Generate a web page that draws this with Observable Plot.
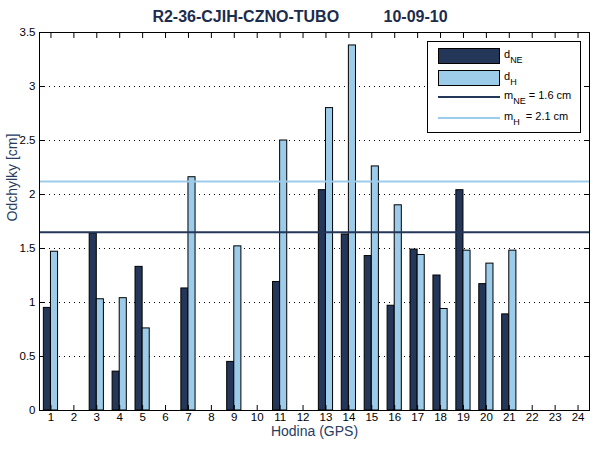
<!DOCTYPE html>
<html>
<head>
<meta charset="utf-8">
<script src="https://cdn.jsdelivr.net/npm/d3@7"></script>
<script src="https://cdn.jsdelivr.net/npm/@observablehq/plot@0.6"></script>
<style>
  body { margin: 0; background: #fff; font-family: "Liberation Sans", Arial, sans-serif; }
  #wrap { position: relative; width: 600px; height: 450px; background: #fff; }
  #title { height: 20px; width: 600px; text-align: center; font-size: 16px; font-weight: bold;
           color: #1c2c4c; line-height: 34px; white-space: pre; }
  #legend { position: absolute; left: 427px; top: 41px; }
</style>
</head>
<body>
<div id="wrap">
  <div id="title"></div>
  <div id="chart"></div>
  <div id="legend"></div>
</div>
<script>
const titleText = "R2-36-CJIH-CZNO-TUBO          10-09-10";
const hours = [1,2,3,4,5,6,7,8,9,10,11,12,13,14,15,16,17,18,19,20,21,22,23,24];
const dNE = [0.95, null, 1.64, 0.36, 1.33, null, 1.13, null, 0.45, null, 1.19, null,
             2.04, 1.63, 1.43, 0.97, 1.49, 1.25, 2.04, 1.17, 0.89, null, null, null];
const dH  = [1.47, null, 1.03, 1.04, 0.76, null, 2.16, null, 1.52, null, 2.50, null,
             2.80, 3.38, 2.26, 1.90, 1.44, 0.94, 1.48, 1.36, 1.48, null, null, null];
const meanNE = 1.65;
const meanH = 2.12;
const yTicks = [0, 0.5, 1, 1.5, 2, 2.5, 3, 3.5];
const legendLabels = [["d", "NE", ""], ["d", "H", ""], ["m", "NE", " = 1.6 cm"], ["m", "H", "  = 2.1 cm"]];

const colNE = "#243758";
const colH = "#9dcbea";
const labelCol = "#263c63";

document.getElementById("title").textContent = titleText;

const rowsNE = hours.map((h, i) => ({hour: h, v: dNE[i]})).filter(d => d.v != null);
const rowsH = hours.map((h, i) => ({hour: h, v: dH[i]})).filter(d => d.v != null);
const barW = 0.31;

const chart = Plot.plot({
  width: 600,
  height: 430,
  marginTop: 12,
  marginBottom: 40,
  marginLeft: 39,
  marginRight: 11,
  style: {fontFamily: "Liberation Sans, Arial, sans-serif", fontSize: "11.5px", color: "#000", background: "#fff"},
  x: {domain: [0.5, 24.5]},
  y: {domain: [0, 3.5]},
  marks: [
    Plot.gridY(yTicks, {stroke: "#000", strokeOpacity: 1, strokeDasharray: "1,4"}),
    Plot.rectY(rowsNE, {x1: d => d.hour - barW, x2: d => d.hour, y1: 0, y2: "v", fill: colNE, stroke: "#000", strokeWidth: 1}),
    Plot.rectY(rowsH, {x1: d => d.hour, x2: d => d.hour + barW, y1: 0, y2: "v", fill: colH, stroke: "#000", strokeWidth: 1}),
    Plot.ruleY([meanNE], {stroke: colNE, strokeWidth: 2}),
    Plot.ruleY([meanH], {stroke: colH, strokeWidth: 2}),
    Plot.frame({stroke: "#000"}),
    Plot.axisX(hours, {anchor: "bottom", tickSize: -5, tickPadding: 7, label: null, tickFormat: d => String(d)}),
    Plot.axisX(hours, {anchor: "top", tickSize: -5, label: null, tickFormat: () => ""}),
    Plot.axisY(yTicks, {anchor: "left", tickSize: -5, tickPadding: 9, label: null, tickFormat: d => String(d)}),
    Plot.axisY(yTicks, {anchor: "right", tickSize: -5, label: null, tickFormat: () => ""}),
    Plot.text(["Odchylky [cm]"], {frameAnchor: "left", dx: -27, rotate: -90, fill: labelCol, fontSize: 14}),
    Plot.text(["Hodina (GPS)"], {frameAnchor: "bottom", dy: 25, fill: labelCol, fontSize: 14})
  ]
});
document.getElementById("chart").appendChild(chart);

// Legend
const lw = 154, lh = 92;
const lsvg = d3.select("#legend").append("svg").attr("width", lw).attr("height", lh)
  .style("font-family", "Liberation Sans, Arial, sans-serif").style("font-size", "11px");
lsvg.append("rect").attr("x", 0.5).attr("y", 0.5).attr("width", lw - 1).attr("height", lh - 1)
  .attr("fill", "#fff").attr("stroke", "#000");
const rowY = [15, 37, 56, 77];
lsvg.append("rect").attr("x", 11.5).attr("y", rowY[0] - 7.5).attr("width", 61).attr("height", 15)
  .attr("fill", colNE).attr("stroke", "#000");
lsvg.append("rect").attr("x", 11.5).attr("y", rowY[1] - 7.5).attr("width", 61).attr("height", 15)
  .attr("fill", colH).attr("stroke", "#000");
lsvg.append("line").attr("x1", 11).attr("x2", 73).attr("y1", rowY[2]).attr("y2", rowY[2])
  .attr("stroke", colNE).attr("stroke-width", 2);
lsvg.append("line").attr("x1", 11).attr("x2", 73).attr("y1", rowY[3]).attr("y2", rowY[3])
  .attr("stroke", colH).attr("stroke-width", 2);
legendLabels.forEach((lab, i) => {
  const t = lsvg.append("text").attr("x", 77).attr("y", rowY[i] + 2).attr("fill", "#000").style("white-space", "pre");
  t.append("tspan").text(lab[0]);
  t.append("tspan").attr("dy", 5).style("font-size", "9px").text(lab[1]);
  if (lab[2]) t.append("tspan").attr("dy", -5).text(lab[2]);
});
</script>
</body>
</html>
